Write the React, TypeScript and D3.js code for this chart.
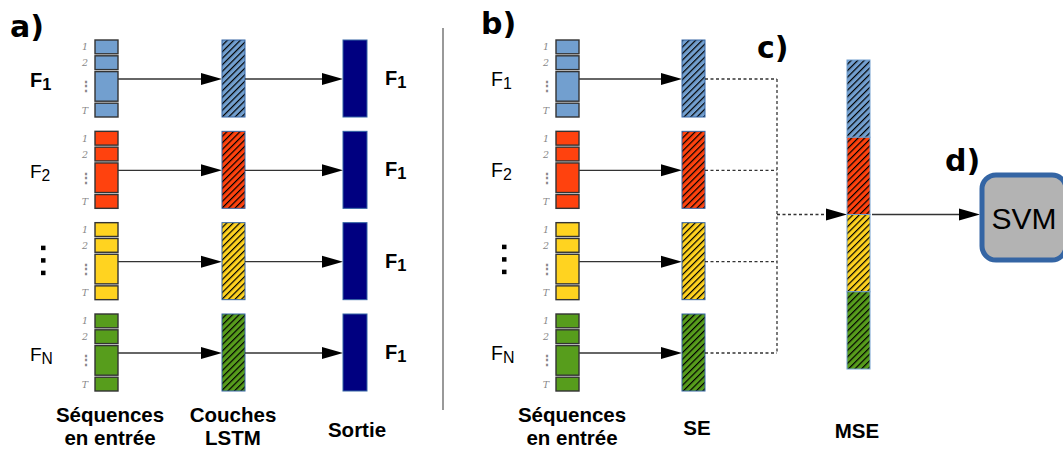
import React from "react";
import * as d3 from "d3";

// ---- data ----
const seriesSubs: (string | null)[] = ["1", "2", null, "N"];
const seriesColors = ["#729fcf", "#ff420e", "#ffd320", "#579d1c"];
const stepLabels = ["1", "2", "⋮", "T"];
const stepWeights = [1, 1, 2, 1];
const outputLabel = "1";
const captionsA = [["Séquences", "en entrée"], ["Couches", "LSTM"], ["Sortie"]];
const captionsB = [["Séquences", "en entrée"], ["SE"], ["MSE"]];
const panelLabels = ["a)", "b)", "c)", "d)"];

const W = 1063, H = 450;
const FONT = "'Liberation Sans', Arial, sans-serif";
const BOLDFONT = "'DejaVu Sans', 'Liberation Sans', sans-serif";

// layout scales
const rowY = d3.scaleLinear().domain([0, seriesSubs.length - 1]).range([40, 314]);
const ROW_H = 77;
const BLOCK_W = 23;
const cum = d3.cumsum(stepWeights);
const totalW = cum[cum.length - 1];
const GAP = 2;
const segScale = d3.scaleLinear().domain([0, totalW]).range([0, ROW_H + GAP]);
const ARROW_OFF = 39;

const mseY = d3.scaleBand<number>().domain(d3.range(seriesColors.length)).range([60, 369]).paddingInner(0);

function Arrow({ x1, x2, y, dashed = false, head = true }: { x1: number; x2: number; y: number; dashed?: boolean; head?: boolean }) {
  const hl = 21, hw = 6;
  const lineEnd = head ? x2 - hl + 2 : x2;
  return (
    <g>
      <line x1={x1} x2={lineEnd} y1={y} y2={y} stroke="#333" strokeWidth={1.3} strokeDasharray={dashed ? "3,2.5" : undefined} />
      {head && <path d={`M${x2},${y} L${x2 - hl},${y - hw} L${x2 - hl},${y + hw} Z`} fill="#000" />}
    </g>
  );
}

function InputBlock({ x, top, color, showIdx }: { x: number; top: number; color: string; showIdx: boolean }) {
  return (
    <g>
      {stepWeights.map((w, i) => {
        const s = i === 0 ? 0 : cum[i - 1];
        const y0 = top + segScale(s);
        const y1 = top + segScale(s + w) - GAP;
        const isDots = i === 2;
        return (
          <g key={i}>
            <rect x={x} y={y0} width={BLOCK_W} height={y1 - y0} fill={color} stroke="#333" strokeWidth={1.4} />
            {showIdx && (
              <text x={isDots ? x - 9 : x - 7} y={(y0 + y1) / 2 + (isDots ? 5 : 3.5)} fontSize={isDots ? 14 : 9.5} fontWeight={isDots ? "bold" : "normal"} fontStyle={isDots ? "normal" : "italic"} fontFamily="'DejaVu Serif', serif" fill="#888" textAnchor={isDots ? "middle" : "end"}>
                {stepLabels[i]}
              </text>
            )}
          </g>
        );
      })}
    </g>
  );
}

function RowLabel({ x, y, sub, bold, size }: { x: number; y: number; sub: string | null; bold: boolean; size: number }) {
  if (sub === null) {
    return (
      <g>
        {d3.range(3).map((k) => (
          <rect key={k} x={x + 11} y={y - 24 + k * 12.5} width={4.5} height={4.5} fill="#000" />
        ))}
      </g>
    );
  }
  return (
    <text x={x} y={y} fontFamily={FONT} fontSize={size} fontWeight={bold ? "bold" : "normal"} fill="#000">
      F<tspan fontSize={size * 0.82} dy={3}>{sub}</tspan>
    </text>
  );
}

function Caption({ lines, cx, y }: { lines: string[]; cx: number; y: number }) {
  return (
    <text x={cx} y={y} textAnchor="middle" fontFamily={FONT} fontWeight="bold" fontSize={20.5} fill="#000">
      {lines.map((l, i) => (
        <tspan key={i} x={cx} dy={i === 0 ? 0 : 23}>{l}</tspan>
      ))}
    </text>
  );
}

export default function App() {
  const inA = 95, lstmA = 222, outA = 343;
  const off = 461;
  const inB = inA + off, seB = lstmA + off - 1;
  const junctionX = 777;
  const mseX = 847;
  const svmX = 982, svmY = 175, svmW = 84, svmH = 85;
  const mseMid = mseY(2)!;

  return (
    <svg width={W} height={H} style={{ position: "absolute", left: 0, top: 0, background: "#fff" }}>
      <defs>
        {seriesColors.map((c, i) => (
          <pattern key={i} id={`hatch${i}`} patternUnits="userSpaceOnUse" width={4.6} height={4.6} patternTransform="rotate(45)">
            <rect width={4.6} height={4.6} fill={c} />
            <line x1={0.6} y1={0} x2={0.6} y2={4.6} stroke="#000" strokeWidth={1.2} />
          </pattern>
        ))}
      </defs>

      {/* panel labels */}
      <text x={10} y={37} fontFamily={BOLDFONT} fontWeight="bold" fontSize={30}>{panelLabels[0]}</text>
      <text x={481} y={34} fontFamily={BOLDFONT} fontWeight="bold" fontSize={30}>{panelLabels[1]}</text>
      <text x={757} y={58} fontFamily={BOLDFONT} fontWeight="bold" fontSize={30}>{panelLabels[2]}</text>
      <text x={945} y={171} fontFamily={BOLDFONT} fontWeight="bold" fontSize={30}>{panelLabels[3]}</text>

      {/* separator */}
      <line x1={443} x2={443} y1={28} y2={410} stroke="#777" strokeWidth={1.5} />

      {/* panel a */}
      {seriesSubs.map((sub, i) => {
        const top = rowY(i);
        const ay = top + ARROW_OFF;
        return (
          <g key={`a${i}`}>
            <RowLabel x={30} y={top + 47} sub={sub} bold={i === 0} size={i === 0 ? 20 : 19} />
            <InputBlock x={inA} top={top} color={seriesColors[i]} showIdx={true} />
            <Arrow x1={inA + BLOCK_W} x2={lstmA} y={ay} />
            <rect x={lstmA} y={top} width={BLOCK_W} height={ROW_H} fill={`url(#hatch${i})`} stroke="#3465a4" strokeWidth={1} />
            <Arrow x1={lstmA + BLOCK_W} x2={outA} y={ay} />
            <rect x={outA} y={top} width={BLOCK_W + 1} height={ROW_H} fill="#000080" stroke="#3465a4" strokeWidth={1} />
            <text x={385} y={top + 45} fontFamily={FONT} fontWeight="bold" fontSize={20}>
              F<tspan fontSize={16.5} dy={3}>{outputLabel}</tspan>
            </text>
          </g>
        );
      })}

      {/* panel b */}
      {seriesSubs.map((sub, i) => {
        const top = rowY(i);
        const ay = top + ARROW_OFF;
        return (
          <g key={`b${i}`}>
            <RowLabel x={491} y={top + 46} sub={sub} bold={false} size={19.5} />
            <InputBlock x={inB} top={top} color={seriesColors[i]} showIdx={true} />
            <Arrow x1={inB + BLOCK_W} x2={seB} y={ay} />
            <rect x={seB} y={top} width={BLOCK_W} height={ROW_H} fill={`url(#hatch${i})`} stroke="#3465a4" strokeWidth={1} />
            <Arrow x1={seB + BLOCK_W} x2={junctionX} y={ay} dashed head={false} />
          </g>
        );
      })}
      <line x1={junctionX} x2={junctionX} y1={rowY(0) + ARROW_OFF} y2={rowY(seriesSubs.length - 1) + ARROW_OFF} stroke="#333" strokeWidth={1.3} strokeDasharray="3,2.5" />
      <Arrow x1={junctionX} x2={mseX} y={mseMid} dashed />

      {/* panel c: MSE */}
      {seriesColors.map((c, i) => (
        <rect key={`m${i}`} x={mseX} y={mseY(i)} width={BLOCK_W} height={mseY.bandwidth()} fill={`url(#hatch${i})`} stroke="#729fcf" strokeWidth={1} />
      ))}

      {/* panel d */}
      <Arrow x1={mseX + BLOCK_W + 2} x2={svmX - 2} y={mseMid} />
      <rect x={svmX} y={svmY} width={svmW} height={svmH} rx={14} ry={14} fill="#b3b3b3" stroke="#3465a4" strokeWidth={5} />
      <text x={1024} y={229} textAnchor="middle" fontFamily={FONT} fontSize={30} fill="#000">SVM</text>

      {/* captions */}
      <Caption lines={captionsA[0]} cx={110} y={422} />
      <Caption lines={captionsA[1]} cx={233} y={422} />
      <Caption lines={captionsA[2]} cx={357} y={437} />
      <Caption lines={captionsB[0]} cx={572} y={422} />
      <Caption lines={captionsB[1]} cx={697} y={435} />
      <Caption lines={captionsB[2]} cx={857} y={438} />
    </svg>
  );
}
